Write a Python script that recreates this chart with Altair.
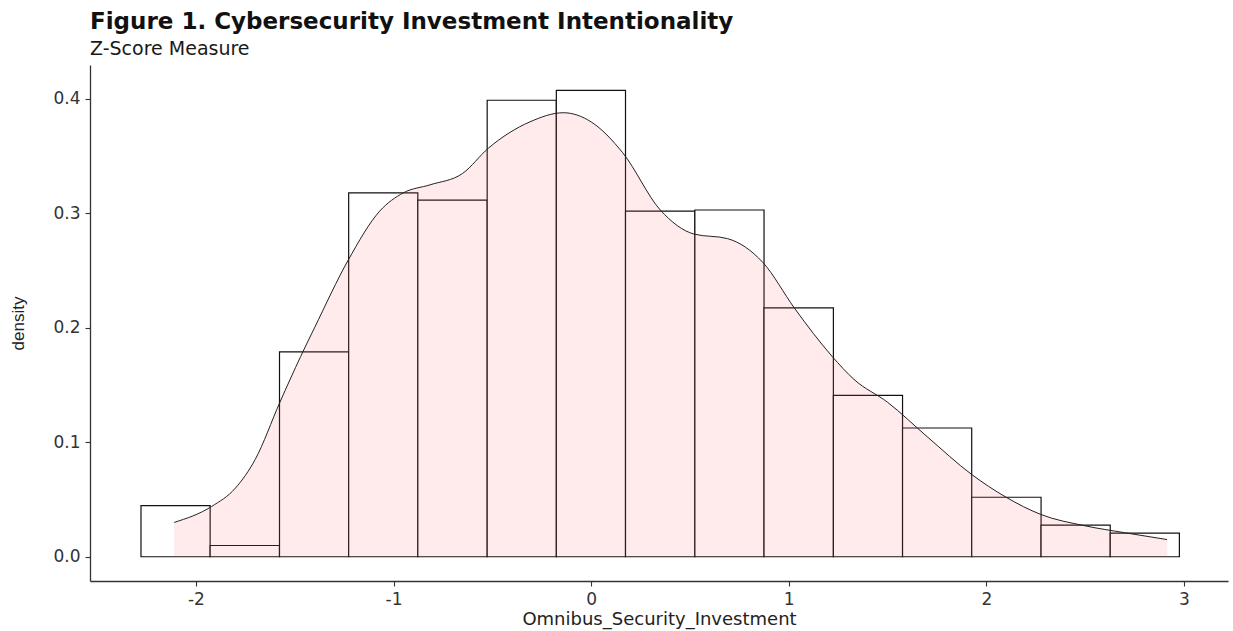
import altair as alt
import pandas as pd

# Histogram bins (left edge, right edge) and density heights
bin_left = [-2.278, -1.928, -1.577, -1.227, -0.877, -0.526, -0.176, 0.174,
            0.525, 0.875, 1.226, 1.576, 1.926, 2.277, 2.627]
bin_right = [-1.928, -1.577, -1.227, -0.877, -0.526, -0.176, 0.174, 0.525,
             0.875, 1.226, 1.576, 1.926, 2.277, 2.627, 2.977]
bin_density = [0.0446, 0.0098, 0.179, 0.318, 0.3117, 0.3989, 0.4076, 0.302,
               0.303, 0.2174, 0.141, 0.1125, 0.052, 0.0277, 0.0207]

# Kernel density estimate of the same measure
kde_x = [-2.11, -1.92, -1.80, -1.70, -1.575, -1.47, -1.40, -1.23, -1.07, -0.95,
         -0.815, -0.65, -0.52, -0.31, -0.14, 0.00, 0.16, 0.35, 0.52, 0.69,
         0.87, 1.03, 1.22, 1.33, 1.50, 1.70, 1.925, 2.10, 2.275, 2.50, 2.70, 2.915]
kde_y = [0.030, 0.044, 0.060, 0.085, 0.135, 0.175, 0.200, 0.259, 0.302, 0.318,
         0.325, 0.335, 0.357, 0.380, 0.388, 0.380, 0.353, 0.303, 0.282, 0.278,
         0.257, 0.217, 0.175, 0.155, 0.135, 0.105, 0.072, 0.052, 0.037, 0.027,
         0.021, 0.015]

x_ticks = [-2, -1, 0, 1, 2, 3]
y_ticks = [0.0, 0.1, 0.2, 0.3, 0.4]

hist = pd.DataFrame({"left": bin_left, "right": bin_right, "density": bin_density})
kde = pd.DataFrame({"x": kde_x, "density": kde_y})

FONT = "DejaVu Sans"

x_scale = alt.Scale(domain=[-2.536, 3.223], nice=False, zero=False)
y_scale = alt.Scale(domain=[-0.0212, 0.4297], nice=False, zero=False)

# plain hyphen for negative tick labels
x_axis = alt.Axis(values=x_ticks, title="Omnibus_Security_Investment",
                  labelExpr="datum.value < 0 ? '-' + abs(datum.value) : '' + datum.value",
                  titleY=43, titleBaseline="alphabetic", titleFontSize=18)
y_axis = alt.Axis(values=y_ticks, format=".1f", title="density",
                  titleX=-72, titleY=258, titleAngle=-90,
                  titleAlign="center", titleBaseline="middle",
                  titleFont="Liberation Sans", titleFontSize=17)

bars = alt.Chart(hist).mark_rect(fill="white", stroke="#111111", strokeWidth=1.2).encode(
    x=alt.X("left:Q", scale=x_scale, axis=x_axis),
    x2="right:Q",
    y=alt.Y("density:Q", scale=y_scale, axis=y_axis),
    y2=alt.datum(0),
)

area = alt.Chart(kde).mark_area(color="#FF6666", opacity=0.13, interpolate="monotone").encode(
    x=alt.X("x:Q", scale=x_scale),
    y=alt.Y("density:Q", scale=y_scale),
    y2=alt.datum(0),
)

line = alt.Chart(kde).mark_line(color="#222222", strokeWidth=1.0, interpolate="monotone").encode(
    x=alt.X("x:Q", scale=x_scale),
    y=alt.Y("density:Q", scale=y_scale),
)

chart = alt.layer(bars, area, line).properties(
    width=1138,
    height=516,
    autosize=alt.AutoSizeParams(type="none"),
    padding={"left": 90, "top": 65, "right": 5, "bottom": 50},
    title=alt.TitleParams(
        text="Figure 1. Cybersecurity Investment Intentionality",
        subtitle="Z-Score Measure",
        anchor="start",
        frame="group",
        font=FONT,
        fontSize=23,
        fontWeight="bold",
        color="#111111",
        subtitleFont=FONT,
        subtitleFontSize=19,
        subtitleColor="#1a1a1a",
        subtitlePadding=6,
        offset=6,
    ),
).configure_view(
    stroke=None
).configure_axis(
    grid=False,
    domainColor="#333333",
    domainWidth=1.3,
    tickColor="#333333",
    tickWidth=1.1,
    tickSize=5,
    labelFont=FONT,
    labelFontSize=17,
    labelColor="#333333",
    labelPadding=5,
    titleFont=FONT,
    titleFontWeight="normal",
    titleFontSize=19,
    titleColor="#222222",
)

chart.save("out.html", embed_options={"renderer": "svg", "actions": False})
